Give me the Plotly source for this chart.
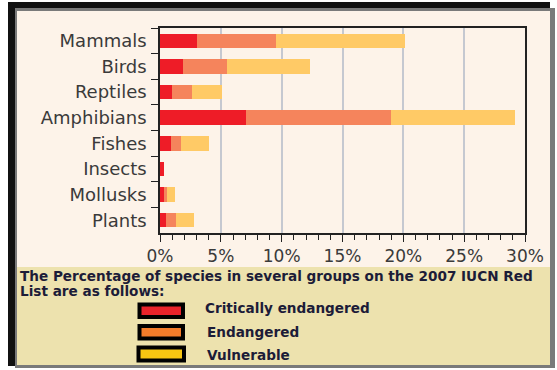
import plotly.graph_objects as go

categories = ["Mammals", "Birds", "Reptiles", "Amphibians", "Fishes", "Insects", "Mollusks", "Plants"]
critically_endangered = [3.0, 1.9, 1.0, 7.1, 0.9, 0.35, 0.33, 0.5]
endangered = [6.5, 3.6, 1.6, 11.9, 0.8, 0.0, 0.22, 0.8]
vulnerable = [10.6, 6.8, 2.5, 10.2, 2.35, 0.0, 0.71, 1.5]
x_tick_values = [0, 5, 10, 15, 20, 25, 30]
x_tick_labels = ["0%", "5%", "10%", "15%", "20%", "25%", "30%"]
legend_labels = ["Critically endangered", "Endangered", "Vulnerable"]
caption_lines = ["The Percentage of species in several groups on the 2007 IUCN Red",
                 "List are as follows:"]

W, H = 557, 370
X0, X1, Y0, Y1 = 160, 525, 28, 233


def px(x):
    return (x - X0) / (X1 - X0)


def py(y):
    return (Y1 - y) / (Y1 - Y0)


bar_colors = ["#EE1C27", "#F5845C", "#FFCA66"]
legend_colors = ["#E8232B", "#F47C2A", "#F7C612"]

fig = go.Figure()
for name, vals, col in zip(legend_labels, [critically_endangered, endangered, vulnerable], bar_colors):
    fig.add_trace(go.Bar(y=categories, x=vals, orientation="h", name=name,
                         marker=dict(color=col, line=dict(width=0)), width=0.57))

shapes = []
# outer frame
shapes.append(dict(type="rect", xref="paper", yref="paper", x0=px(8), x1=px(550), y0=py(2), y1=py(366),
                   fillcolor="#111111", line=dict(width=0), layer="below"))
shapes.append(dict(type="rect", xref="paper", yref="paper", x0=px(15), x1=px(555), y0=py(8), y1=py(368),
                   fillcolor="#7a7a7a", line=dict(width=0), layer="below"))
shapes.append(dict(type="rect", xref="paper", yref="paper", x0=px(17), x1=px(550), y0=py(11), y1=py(267),
                   fillcolor="#FDF3E9", line=dict(width=0), layer="below"))
shapes.append(dict(type="rect", xref="paper", yref="paper", x0=px(17), x1=px(550), y0=py(267), y1=py(365),
                   fillcolor="#EDE2AE", line=dict(width=0), layer="below"))
# legend boxes
box_rows = [(304.5, 317), (326, 338.5), (347.5, 360.5)]
box_x = [(139.5, 183), (139.5, 183), (138.5, 184)]
for (ya, yb), (xa, xb), col in zip(box_rows, box_x, legend_colors):
    shapes.append(dict(type="rect", xref="paper", yref="paper", x0=px(xa), x1=px(xb), y0=py(ya), y1=py(yb),
                       fillcolor=col, line=dict(color="#000000", width=4)))

annotations = []
cap_font = dict(family="DejaVu Sans", size=13.6, color="#1C1C38", weight="bold")
for line, yy in zip(caption_lines, [276, 291]):
    annotations.append(dict(text=line, xref="paper", yref="paper", x=px(18), y=py(yy),
                            xanchor="left", yanchor="middle", showarrow=False, font=cap_font))
for lab, xx, yy in zip(legend_labels, [203, 205, 205], [308, 332, 354.5]):
    annotations.append(dict(text=lab, xref="paper", yref="paper", x=px(xx), y=py(yy),
                            xanchor="left", yanchor="middle", showarrow=False, font=cap_font))

xtick_font = dict(family="DejaVu Sans", size=17, color="#3a3a3a")
ytick_font = dict(family="DejaVu Sans", size=18, color="#3a3a3a")

fig.update_layout(
    width=W, height=H,
    margin=dict(l=X0, r=W - X1, t=Y0, b=H - Y1),
    paper_bgcolor="#FFFFFF",
    plot_bgcolor="#FDF3E9",
    barmode="stack",
    showlegend=False,
    shapes=shapes,
    annotations=annotations,
    xaxis=dict(range=[0, 30], tickvals=x_tick_values, ticktext=x_tick_labels,
               showgrid=True, gridcolor="#C5C8D0", gridwidth=1.5,
               showline=True, linecolor="#222222", linewidth=1.5, mirror=True,
               ticks="outside", ticklen=7, tickcolor="#222222", tickwidth=1.2,
               minor=dict(dtick=1, tick0=0, ticks="outside", ticklen=5, tickcolor="#222222",
                          tickwidth=1.2, showgrid=False),
               tickfont=xtick_font, zeroline=False, fixedrange=True),
    yaxis=dict(type="category", categoryorder="array", categoryarray=categories,
               autorange="reversed", showgrid=False,
               showline=True, linecolor="#222222", linewidth=1.5, mirror=True,
               ticks="outside", tickson="boundaries", ticklen=7, tickcolor="#222222", tickwidth=1.2,
               tickfont=ytick_font, ticklabelstandoff=8),
)

fig.write_html("out.html")
